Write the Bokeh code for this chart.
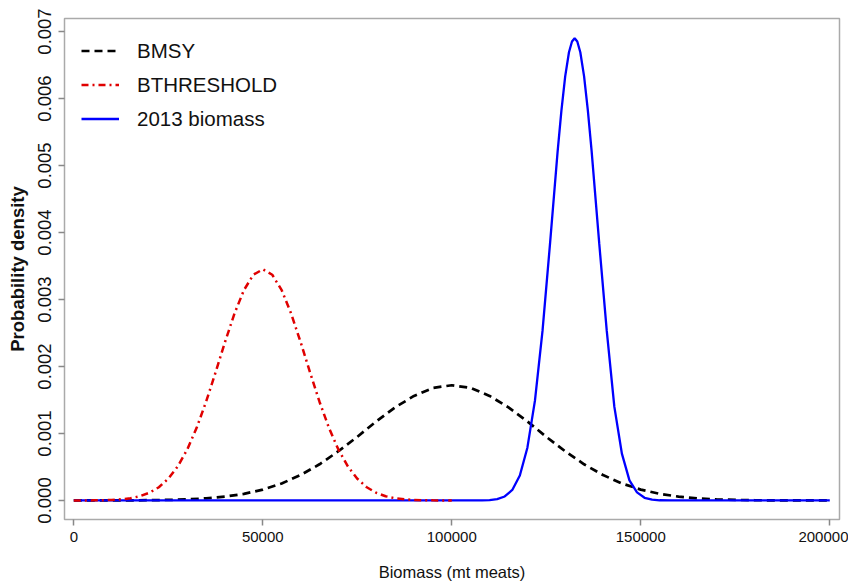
from bokeh.plotting import figure
from bokeh.models import Legend, LegendItem, FixedTicker, PrintfTickFormatter, Range1d
from bokeh.embed import file_html
from bokeh.resources import INLINE

# ---- data ----
X_TICKS = [0, 50000, 100000, 150000, 200000]
Y_TICKS = [0.000, 0.001, 0.002, 0.003, 0.004, 0.005, 0.006, 0.007]

BMSY_X = list(range(0, 200001, 5000))
BMSY_Y = [1e-7, 3e-7, 8e-7, 1.9e-6, 4.1e-6, 8.4e-6, 1.68e-5, 3.17e-5, 5.72e-5, 9.86e-5,
          1.62e-4, 2.54e-4, 3.80e-4, 5.40e-4, 7.35e-4, 9.50e-4, 1.18e-3, 1.39e-3, 1.56e-3, 1.68e-3,
          1.72e-3,
          1.68e-3, 1.56e-3, 1.39e-3, 1.18e-3, 9.50e-4, 7.35e-4, 5.40e-4, 3.80e-4, 2.54e-4, 1.62e-4,
          9.86e-5, 5.72e-5, 3.17e-5, 1.68e-5, 8.4e-6, 4.1e-6, 1.9e-6, 8e-7, 3e-7, 1e-7]

THR_X = list(range(0, 100001, 2500))
THR_Y = [3e-7, 7e-7, 1.6e-6, 3.7e-6, 8.1e-6, 1.69e-5, 3.36e-5, 6.36e-5, 1.15e-4, 1.98e-4,
         3.25e-4, 5.09e-4, 7.60e-4, 1.084e-3, 1.474e-3, 1.911e-3, 2.364e-3, 2.789e-3, 3.139e-3, 3.369e-3,
         3.45e-3,
         3.369e-3, 3.139e-3, 2.789e-3, 2.364e-3, 1.911e-3, 1.474e-3, 1.084e-3, 7.60e-4, 5.09e-4, 3.25e-4,
         1.98e-4, 1.15e-4, 6.36e-5, 3.36e-5, 1.69e-5, 8.1e-6, 3.7e-6, 1.6e-6, 7e-7, 3e-7]

BIO_X = [0, 50000, 100000, 108000, 110000, 112000, 114000, 116000, 118000, 120000, 122000,
         124000, 126000, 128000, 129000, 130000, 131000, 131800, 132500, 133200, 134000, 135000, 136000, 137000,
         139000, 141000, 143000, 145000, 147000, 149000, 151000, 153000, 155000, 158000, 200000]
BIO_Y = [0, 0, 0, 8e-7, 6.1e-6, 2.01e-5, 5.95e-5, 1.57e-4, 3.72e-4, 7.88e-4, 1.49e-3,
         2.53e-3, 3.84e-3, 5.21e-3, 5.82e-3, 6.33e-3, 6.69e-3, 6.85e-3, 6.90e-3, 6.85e-3, 6.69e-3, 6.33e-3, 5.82e-3, 5.21e-3,
         3.84e-3, 2.53e-3, 1.40e-3, 7.0e-4, 3.0e-4, 1.2e-4, 4e-5, 1.2e-5, 3e-6, 0, 0]

LABELS = ["BMSY", "BTHRESHOLD", "2013 biomass"]

REG = "Liberation Sans, Arial, sans-serif"

p = figure(width=848, height=584, output_backend="svg", toolbar_location=None,
           x_range=Range1d(-2460, 202570), y_range=Range1d(-0.000284, 0.007194),
           min_border_left=64, min_border_right=9, min_border_top=18, min_border_bottom=65)

p.xgrid.visible = False
p.ygrid.visible = False
p.outline_line_color = "#aaaaaa"
p.outline_line_width = 1.5
p.background_fill_color = "white"

for ax in (p.xaxis[0], p.yaxis[0]):
    ax.axis_line_color = None
    ax.major_tick_line_color = "#888888"
    ax.major_tick_line_width = 1.5
    ax.major_tick_out = 6
    ax.major_tick_in = 0
    ax.minor_tick_line_color = None
    ax.major_label_text_color = "#111111"
    ax.axis_label_text_color = "#111111"

p.xaxis.ticker = FixedTicker(ticks=X_TICKS)
p.xaxis.formatter = PrintfTickFormatter(format="%d")
p.xaxis.major_label_text_font = REG
p.xaxis.major_label_text_font_size = "15px"
p.xaxis.major_label_standoff = 6
p.xaxis.axis_label = "Biomass (mt meats)"
p.xaxis.axis_label_text_font = REG
p.xaxis.axis_label_text_font_size = "16.5px"
p.xaxis.axis_label_text_font_style = "normal"
p.xaxis.axis_label_standoff = 18

p.yaxis.ticker = FixedTicker(ticks=Y_TICKS)
p.yaxis.formatter = PrintfTickFormatter(format="%.3f")
p.yaxis.major_label_orientation = "vertical"
p.yaxis.major_label_text_font = REG
p.yaxis.major_label_text_font_size = "18.5px"
p.yaxis.major_label_standoff = 7
p.yaxis.axis_label = "Probability density"
p.yaxis.axis_label_text_font = REG
p.yaxis.axis_label_text_font_size = "18.5px"
p.yaxis.axis_label_text_font_style = "bold"
p.yaxis.axis_label_standoff = 8

r_bmsy = p.line(BMSY_X, BMSY_Y, line_color="black", line_width=2.7, line_dash="8 5")
r_bio = p.line(BIO_X, BIO_Y, line_color="#0000ff", line_width=2.3)
r_thr = p.line(THR_X, THR_Y, line_color="#e00000", line_width=2.5, line_dash="7 4 2 4")

legend = Legend(items=[LegendItem(label=LABELS[0], renderers=[r_bmsy]),
                       LegendItem(label=LABELS[1], renderers=[r_thr]),
                       LegendItem(label=LABELS[2], renderers=[r_bio])],
                location="top_left", margin=17, padding=1, spacing=3,
                glyph_width=38, glyph_height=31, label_height=31, label_standoff=18,
                label_text_font=REG, label_text_font_size="20.5px",
                label_text_color="#111111",
                border_line_color=None, background_fill_alpha=0)
p.add_layout(legend)

open("out.html", "w").write(file_html(p, INLINE))
